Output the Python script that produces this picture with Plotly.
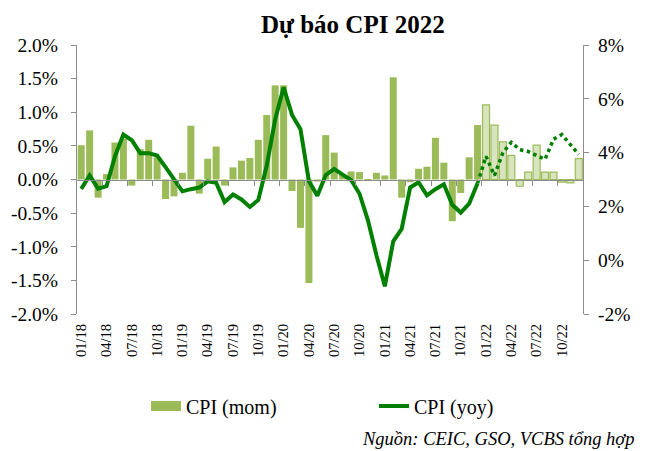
import plotly.graph_objects as go

# ---------------- data ----------------
tick_labels = ["01/18", "04/18", "07/18", "10/18", "01/19", "04/19", "07/19", "10/19",
               "01/20", "04/20", "07/20", "10/20", "01/21", "04/21", "07/21", "10/21",
               "01/22", "04/22", "07/22", "10/22"]
left_ticks = [-2.0, -1.5, -1.0, -0.5, 0.0, 0.5, 1.0, 1.5, 2.0]
right_ticks = [-2, 0, 2, 4, 6, 8]

# CPI month-on-month (%), Jan-2018 .. Dec-2021 (actual)
mom_actual = [0.51, 0.73, -0.27, 0.08, 0.55, 0.61, -0.09, 0.45, 0.59, 0.33, -0.29, -0.25,
              0.10, 0.80, -0.21, 0.31, 0.49, -0.09, 0.18, 0.28, 0.32, 0.59, 0.96, 1.40,
              1.40, -0.17, -0.72, -1.54, -0.03, 0.66, 0.40, 0.07, 0.12, 0.11, -0.01, 0.10,
              0.06, 1.52, -0.27, -0.04, 0.16, 0.19, 0.62, 0.25, -0.62, -0.20, 0.33, 0.81]
# CPI month-on-month (%), Jan-2022 .. Dec-2022 (forecast)
mom_forecast = [1.11, 0.81, 0.56, 0.36, -0.10, 0.11, 0.51, 0.11, 0.11, -0.04, -0.05, 0.31]

# CPI year-on-year (%), Jan-2018 .. Dec-2021 (actual)
yoy_actual = [2.65, 3.15, 2.66, 2.75, 3.86, 4.67, 4.46, 3.98, 3.98, 3.89, 3.46, 2.98,
              2.56, 2.64, 2.70, 2.93, 2.88, 2.16, 2.44, 2.26, 1.98, 2.24, 3.52, 5.23,
              6.43, 5.40, 4.87, 2.93, 2.40, 3.17, 3.39, 3.18, 2.98, 2.47, 1.48, 0.19,
              -0.97, 0.70, 1.16, 2.70, 2.90, 2.41, 2.64, 2.82, 2.06, 1.77, 2.10, 2.86]
# CPI year-on-year (%), Jan-2022 .. Dec-2022 (forecast)
yoy_forecast = [3.86, 3.15, 4.00, 4.38, 4.11, 4.04, 3.91, 3.75, 4.50, 4.67, 4.30, 3.93]

# ---------------- derived positions ----------------
n_act = len(mom_actual)
n_all = n_act + len(mom_forecast)
x_act = list(range(n_act))
x_fc = list(range(n_act, n_all))
x_yoy_fc = [n_act - 1] + x_fc
y_yoy_fc = [yoy_actual[-1]] + yoy_forecast
tick_pos = list(range(0, n_all, 3))
bound_pos = [p - 0.5 for p in range(3, n_all, 3)]

SERIF = "Liberation Serif, Times New Roman, serif"
BAR = "#9BBB59"
BAR_FC = "#D7E4BD"
LINE = "#008000"
AXIS = "#8C8C8C"

fig = go.Figure()

# legend proxy for the bars (wide swatch)
fig.add_trace(go.Scatter(x=[None], y=[None], mode="lines", name="CPI (mom)",
                         line=dict(color=BAR, width=10), xaxis="x2", yaxis="y"))

fig.add_trace(go.Bar(x=x_act, y=mom_actual, marker=dict(color=BAR, line=dict(width=0)),
                     showlegend=False, yaxis="y", name="CPI (mom)"))
fig.add_trace(go.Bar(x=x_fc, y=mom_forecast,
                     marker=dict(color=BAR_FC, line=dict(color=BAR, width=1.2)),
                     showlegend=False, yaxis="y", name="CPI (mom) dự báo"))

fig.add_trace(go.Scatter(x=x_act, y=yoy_actual, mode="lines", name="CPI (yoy)",
                         line=dict(color=LINE, width=4), yaxis="y2"))
fig.add_trace(go.Scatter(x=x_yoy_fc, y=y_yoy_fc, mode="lines", showlegend=False,
                         line=dict(color=LINE, width=3.5, dash="dot"), yaxis="y2"))

xrange = [-0.5, n_all - 0.5]

fig.update_layout(
    width=647, height=451,
    margin=dict(l=77, r=64, t=45, b=137),
    paper_bgcolor="white", plot_bgcolor="white",
    barmode="overlay", bargap=0.17,
    font=dict(family=SERIF, color="#000000"),
    title=dict(text="<b>Dự báo CPI 2022</b>", font=dict(family=SERIF, size=25, color="#000"),
               x=0.545, xref="paper", xanchor="center",
               y=1 - 24 / 451, yref="container", yanchor="middle"),
    xaxis=dict(range=xrange, tickmode="array", tickvals=tick_pos, ticktext=tick_labels,
               tickangle=-90, ticks="", showline=False, showgrid=False, zeroline=False,
               ticklabelstandoff=6,
               tickfont=dict(family=SERIF, size=14.5, color="#000")),
    xaxis2=dict(range=xrange, overlaying="x", anchor="free", position=0.5, side="bottom",
                showline=True, linecolor=AXIS, linewidth=1,
                tickmode="array", tickvals=bound_pos, ticks="outside", ticklen=5,
                tickcolor=AXIS, showticklabels=False, showgrid=False, zeroline=False),
    yaxis=dict(range=[-2, 2], tickmode="array", tickvals=left_ticks,
               ticktext=[f"{v:.1f}%" for v in left_ticks],
               showline=True, linecolor=AXIS, linewidth=1, ticks="outside", ticklen=5,
               tickcolor=AXIS, showgrid=False, zeroline=False, ticklabelstandoff=9,
               tickfont=dict(family=SERIF, size=19.5, color="#000")),
    yaxis2=dict(range=[-2, 8], tickmode="array", tickvals=right_ticks,
                ticktext=[f"{v}%" for v in right_ticks], overlaying="y", side="right",
                showline=True, linecolor=AXIS, linewidth=1, ticks="outside", ticklen=5,
                tickcolor=AXIS, showgrid=False, zeroline=False, ticklabelstandoff=5,
                tickfont=dict(family=SERIF, size=19.5, color="#000")),
    legend=dict(orientation="h", xref="container", yref="container",
                x=146 / 647, y=1 - 406 / 451, xanchor="left", yanchor="middle",
                font=dict(family=SERIF, size=20, color="#000"),
                entrywidth=183, entrywidthmode="pixels", itemwidth=30,
                bgcolor="rgba(0,0,0,0)"),
    annotations=[dict(text="<i>Nguồn: CEIC, GSO, VCBS tổng hợp</i>",
                      xref="paper", yref="paper", x=(636 - 77) / 506, y=(314 - 439) / 269,
                      xanchor="right", yanchor="middle", showarrow=False,
                      font=dict(family=SERIF, size=18.5, color="#000"))],
)

fig.write_html("out.html", config={"displayModeBar": False},
               post_script="document.body.style.margin='0';")
